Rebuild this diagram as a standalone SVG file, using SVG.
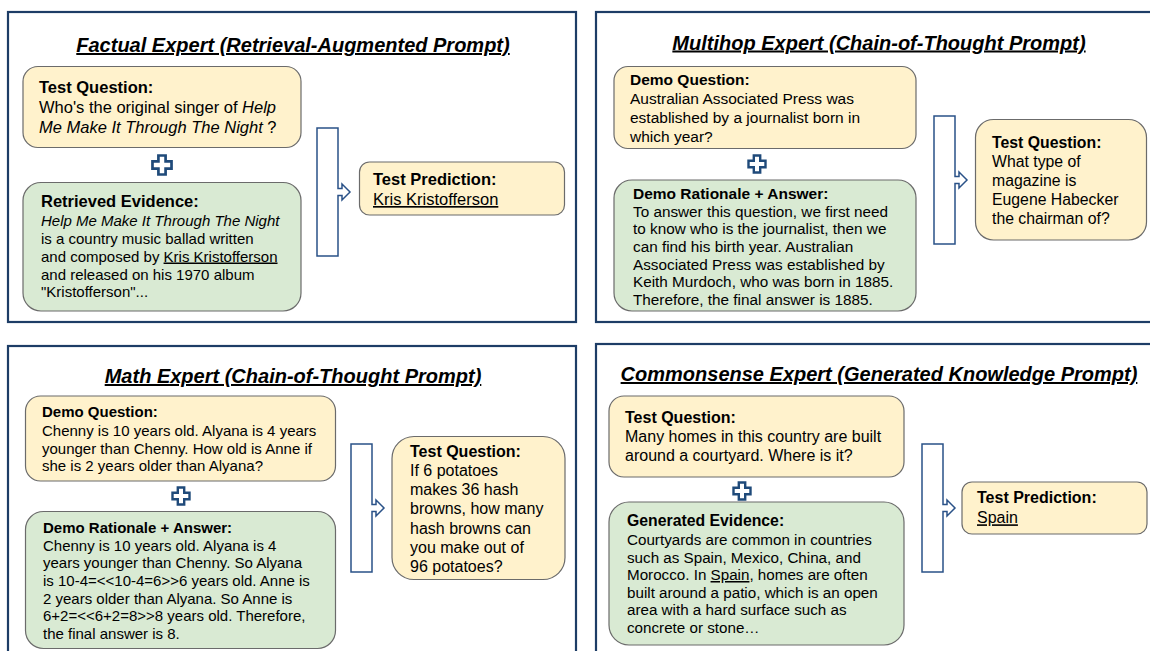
<svg xmlns="http://www.w3.org/2000/svg" xmlns:xlink="http://www.w3.org/1999/xlink" width="1150" height="651" viewBox="0 0 1150 651">
<style>
  text { font-family: "Liberation Sans", Arial, sans-serif; fill: #000; }
  .title { font-size: 20px; font-weight: bold; font-style: italic; text-decoration: underline; text-anchor: middle; }
  .panel { fill: #ffffff; stroke: #1d3d66; stroke-width: 2.2; }
  .yel { fill: #fff2cc; stroke: #6b6b6b; stroke-width: 1.2; }
  .grn { fill: #d9ead3; stroke: #6b6b6b; stroke-width: 1.2; }
  .b { font-weight: bold; }
  .i { font-style: italic; }
  .u { text-decoration: underline; }
  .bracket { fill: #ffffff; stroke: #2a5288; stroke-width: 1.5; stroke-linejoin: miter; }
  .plus { fill: #ffffff; stroke: #1f4a7a; stroke-width: 2.4; stroke-linejoin: miter; }
</style>
<defs>
  <path id="br" d="M0,0 H21 V60.5 H25 V56 L33,64 L25,72 V67.5 H21 V128 H0 Z"/>
  <path id="pl" d="M-3.2,-8.5 H3.2 V-3.2 H8.5 V3.2 H3.2 V8.5 H-3.2 V3.2 H-8.5 V-3.2 H-3.2 Z"/>
</defs>
<rect width="1150" height="651" fill="#ffffff"/>

<!-- Panels -->
<g id="panel-factual">
  <rect class="panel" x="8" y="12" width="568" height="310"/>
  <text class="title" x="293" y="52">Factual Expert (Retrieval-Augmented Prompt)</text>
</g>
<g id="panel-multihop">
  <rect class="panel" x="596" y="12" width="580" height="310"/>
  <text class="title" x="879" y="49.5">Multihop Expert (Chain-of-Thought Prompt)</text>
</g>
<g id="panel-math">
  <rect class="panel" x="8" y="346" width="568" height="330"/>
  <text class="title" x="293" y="383">Math Expert (Chain-of-Thought Prompt)</text>
</g>
<g id="panel-commonsense">
  <rect class="panel" x="596" y="344" width="580" height="330"/>
  <text class="title" x="879" y="381">Commonsense Expert (Generated Knowledge Prompt)</text>
</g>

<!-- Connectors -->
<g id="connectors">
  <use xlink:href="#br" href="#br" class="bracket" transform="translate(317,128)"/>
  <use xlink:href="#br" href="#br" class="bracket" transform="translate(934,116)"/>
  <use xlink:href="#br" href="#br" class="bracket" transform="translate(351,444)"/>
  <use xlink:href="#br" href="#br" class="bracket" transform="translate(922,444)"/>
  <use xlink:href="#pl" href="#pl" class="plus" transform="translate(162,165) scale(1.12)"/>
  <use xlink:href="#pl" href="#pl" class="plus" transform="translate(757,164)"/>
  <use xlink:href="#pl" href="#pl" class="plus" transform="translate(181,496)"/>
  <use xlink:href="#pl" href="#pl" class="plus" transform="translate(742,491)"/>
</g>

<!-- Factual -->
<g id="f-test-question">
  <rect class="yel" x="23" y="66.5" width="278" height="81" rx="15"/>
  <text x="39" y="93" font-size="16.5" class="b">Test Question:</text>
  <text x="39" y="113" font-size="16.5">Who's the original singer of <tspan class="i">Help</tspan></text>
  <text x="39" y="133" font-size="16.5"><tspan class="i">Me Make It Through The Night</tspan> ?</text>
</g>
<g id="f-evidence">
  <rect class="grn" x="23" y="182.5" width="278" height="128.5" rx="18"/>
  <text x="41" y="207" font-size="16.5" class="b">Retrieved Evidence:</text>
  <text x="41" y="225.5" font-size="15" class="i">Help Me Make It Through The Night</text>
  <text x="41" y="243.5" font-size="15">is a country music ballad written</text>
  <text x="41" y="261.5" font-size="15">and composed by <tspan class="u">Kris Kristofferson</tspan></text>
  <text x="41" y="279.5" font-size="15">and released on his 1970 album</text>
  <text x="41" y="297" font-size="15">"Kristofferson"...</text>
</g>
<g id="f-prediction">
  <rect class="yel" x="359.5" y="162" width="205" height="53" rx="10"/>
  <text x="373" y="185" font-size="16.5" class="b">Test Prediction:</text>
  <text x="373" y="205" font-size="16.5" class="u">Kris Kristofferson</text>
</g>

<!-- Multihop -->
<g id="m-demo-question">
  <rect class="yel" x="614" y="66.5" width="302" height="82" rx="14"/>
  <text x="630" y="85" font-size="15.5" class="b">Demo Question:</text>
  <text x="630" y="104" font-size="15.5">Australian Associated Press was</text>
  <text x="630" y="123" font-size="15.5">established by a journalist born in</text>
  <text x="630" y="142" font-size="15.5">which year?</text>
</g>
<g id="m-demo-rationale">
  <rect class="grn" x="614" y="180" width="302" height="131" rx="18"/>
  <text x="633" y="198.5" font-size="15.5" class="b">Demo Rationale + Answer:</text>
  <text x="633" y="216.7" font-size="15.3">To answer this question, we first need</text>
  <text x="633" y="234.3" font-size="15.3">to know who is the journalist, then we</text>
  <text x="633" y="252" font-size="15.3">can find his birth year. Australian</text>
  <text x="633" y="269.6" font-size="15.3">Associated Press was established by</text>
  <text x="633" y="287.2" font-size="15.3">Keith Murdoch, who was born in 1885.</text>
  <text x="633" y="304.8" font-size="15.3">Therefore, the final answer is 1885.</text>
</g>
<g id="m-test-question">
  <rect class="yel" x="975.5" y="119.5" width="171" height="120.5" rx="18"/>
  <text x="992" y="147.5" font-size="15.8" class="b">Test Question:</text>
  <text x="992" y="166.7" font-size="15.8">What type of</text>
  <text x="992" y="185.7" font-size="15.8">magazine is</text>
  <text x="992" y="204.5" font-size="15.8">Eugene Habecker</text>
  <text x="992" y="223.5" font-size="15.8">the chairman of?</text>
</g>

<!-- Math -->
<g id="a-demo-question">
  <rect class="yel" x="25.5" y="396" width="310" height="85" rx="15"/>
  <text x="42" y="417.3" font-size="15" class="b">Demo Question:</text>
  <text x="42" y="436" font-size="15">Chenny is 10 years old. Alyana is 4 years</text>
  <text x="42" y="453.5" font-size="15">younger than Chenny. How old is Anne if</text>
  <text x="42" y="471" font-size="15">she is 2 years older than Alyana?</text>
</g>
<g id="a-demo-rationale">
  <rect class="grn" x="25.5" y="511.5" width="310" height="137" rx="18"/>
  <text x="43" y="532.7" font-size="15" class="b">Demo Rationale + Answer:</text>
  <text x="43" y="550.7" font-size="15">Chenny is 10 years old. Alyana is 4</text>
  <text x="43" y="568.4" font-size="15">years younger than Chenny. So Alyana</text>
  <text x="43" y="586" font-size="15">is 10-4=&lt;&lt;10-4=6&gt;&gt;6 years old. Anne is</text>
  <text x="43" y="603.6" font-size="15">2 years older than Alyana. So Anne is</text>
  <text x="43" y="621.2" font-size="15">6+2=&lt;&lt;6+2=8&gt;&gt;8 years old. Therefore,</text>
  <text x="43" y="638.8" font-size="15">the final answer is 8.</text>
</g>
<g id="a-test-question">
  <rect class="yel" x="392" y="436.5" width="173" height="143" rx="22"/>
  <text x="410" y="456.7" font-size="16" class="b">Test Question:</text>
  <text x="410" y="476" font-size="16">If 6 potatoes</text>
  <text x="410" y="495.2" font-size="16">makes 36 hash</text>
  <text x="410" y="514.4" font-size="16">browns, how many</text>
  <text x="410" y="533.6" font-size="16">hash browns can</text>
  <text x="410" y="552.8" font-size="16">you make out of</text>
  <text x="410" y="572" font-size="16">96 potatoes?</text>
</g>

<!-- Commonsense -->
<g id="c-test-question">
  <rect class="yel" x="609" y="396" width="295" height="81" rx="15"/>
  <text x="625" y="423.3" font-size="16" class="b">Test Question:</text>
  <text x="625" y="442" font-size="16">Many homes in this country are built</text>
  <text x="625" y="461" font-size="16">around a courtyard. Where is it?</text>
</g>
<g id="c-evidence">
  <rect class="grn" x="609" y="502" width="295" height="143" rx="20"/>
  <text x="627" y="525.7" font-size="15.8" class="b">Generated Evidence:</text>
  <text x="627" y="545" font-size="15.2">Courtyards are common in countries</text>
  <text x="627" y="562.5" font-size="15.2">such as Spain, Mexico, China, and</text>
  <text x="627" y="580" font-size="15.2">Morocco. In <tspan class="u">Spain</tspan>, homes are often</text>
  <text x="627" y="597.5" font-size="15.2">built around a patio, which is an open</text>
  <text x="627" y="615" font-size="15.2">area with a hard surface such as</text>
  <text x="627" y="632.5" font-size="15.2">concrete or stone…</text>
</g>
<g id="c-prediction">
  <rect class="yel" x="962" y="482" width="185" height="52" rx="10"/>
  <text x="977" y="503.3" font-size="16" class="b">Test Prediction:</text>
  <text x="977" y="523.3" font-size="16" class="u">Spain</text>
</g>
</svg>
